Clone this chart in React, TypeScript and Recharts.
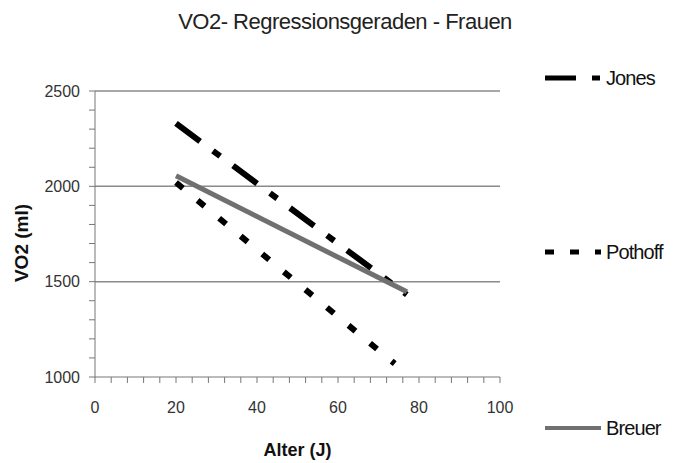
import { LineChart, Line, XAxis, YAxis, ReferenceLine, Legend } from "recharts";

// Regression lines (age in years -> VO2 in ml)
const jonesAge = [20, 77];
const jonesVo2 = [2330, 1432];
const pothoffAge = [20, 74];
const pothoffVo2 = [2020, 1070];
const breuerAge = [20, 77];
const breuerVo2 = [2055, 1447];

const xTicks = [0, 4, 8, 12, 16, 20, 24, 28, 32, 36, 40, 44, 48, 52, 56, 60, 64, 68, 72, 76, 80, 84, 88, 92, 96, 100];
const yTicks = [1000, 1100, 1200, 1300, 1400, 1500, 1600, 1700, 1800, 1900, 2000, 2100, 2200, 2300, 2400, 2500];
const gridValues = [1500, 2000, 2500];

const toPoints = (xs: number[], ys: number[]) => xs.map((x, i) => ({ x, y: ys[i] }));

const series = [
  { name: "Jones", data: toPoints(jonesAge, jonesVo2), color: "#000", width: 6, dash: "30 16 9 16", top: 78 },
  { name: "Pothoff", data: toPoints(pothoffAge, pothoffVo2), color: "#000", width: 6, dash: "9 19", top: 252 },
  { name: "Breuer", data: toPoints(breuerAge, breuerVo2), color: "#707070", width: 5, dash: undefined, top: 428 },
];

const font = "'Liberation Sans', Arial, sans-serif";

const LegendBox = () => (
  <div style={{ position: "relative", width: 148, height: 400 }}>
    {series.map((s) => (
      <div
        key={s.name}
        style={{ position: "absolute", left: 0, top: s.top - 60 - 12, height: 24, display: "flex", alignItems: "center" }}
      >
        <svg width={58} height={20}>
          <line x1={0} y1={10} x2={56} y2={10} stroke={s.color} strokeWidth={s.name === "Breuer" ? 4 : 5} strokeDasharray={s.name === "Jones" ? "31 16 8 20" : s.name === "Pothoff" ? "9 16" : undefined} />
        </svg>
        <span style={{ fontSize: 20, color: "#111", marginLeft: 3, letterSpacing: -0.9 }}>{s.name}</span>
      </div>
    ))}
  </div>
);

const YLabel = () => (
  <text x={21} y={243} transform="rotate(-90 21 243)" textAnchor="middle" dominantBaseline="central" fontSize={19} fontWeight="bold" fill="#111" fontFamily={font}>
    VO2 (ml)
  </text>
);

export default function App() {
  return (
    <div style={{ position: "absolute", left: 0, top: 0, width: 688, height: 463, background: "#fff", fontFamily: font }}>
      <div style={{ position: "absolute", left: 0, top: 9, width: 690, textAlign: "center", fontSize: 22, color: "#222", letterSpacing: -0.5 }}>
        VO2- Regressionsgeraden - Frauen
      </div>
      <LineChart width={688} height={463} margin={{ top: 91, right: 188, bottom: 0, left: 15 }}>
        {gridValues.map((v) => (
          <ReferenceLine key={v} y={v} stroke="#8a8a8a" strokeWidth={1.5} />
        ))}
        <XAxis
          type="number"
          dataKey="x"
          domain={[0, 100]}
          ticks={xTicks}
          interval={0}
          height={86}
          tickSize={6}
          tickMargin={19}
          stroke="#777"
          tick={{ fill: "#333", fontSize: 16 }}
          tickFormatter={(v: number) => (v % 20 === 0 ? String(v) : "")}
          label={{ value: "Alter (J)", position: "insideBottom", offset: 7, fontSize: 18, fontWeight: "bold", fill: "#111" }}
        />
        <YAxis
          type="number"
          domain={[1000, 2500]}
          ticks={yTicks}
          interval={0}
          width={80}
          tickSize={6}
          tickMargin={9}
          stroke="#777"
          tick={{ fill: "#333", fontSize: 16 }}
          tickFormatter={(v: number) => (v % 500 === 0 ? String(v) : "")}
          label={{ content: () => <YLabel /> }}
        />
        {series.map((s) => (
          <Line
            key={s.name}
            data={s.data}
            dataKey="y"
            name={s.name}
            type="linear"
            stroke={s.color}
            strokeWidth={s.width}
            strokeDasharray={s.dash}
            dot={false}
            activeDot={false}
            isAnimationActive={false}
          />
        ))}
        <Legend
          layout="vertical"
          align="center"
          verticalAlign="middle"
          content={() => <LegendBox />}
          wrapperStyle={{ left: 545, top: 60, width: 148 }}
        />
      </LineChart>
    </div>
  );
}
